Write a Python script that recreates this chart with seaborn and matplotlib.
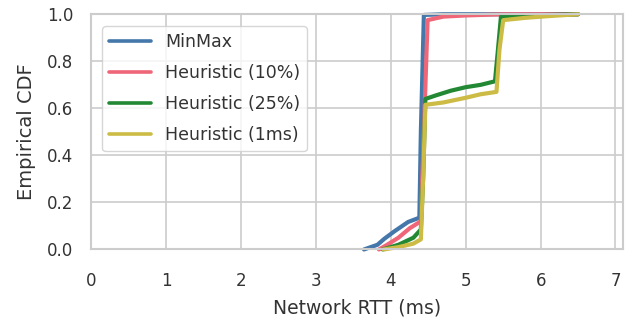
import pandas as pd
import matplotlib.pyplot as plt
import seaborn as sns

# CDF curves (x = RTT in ms, y = cumulative fraction)
minmax_x = [3.64, 3.82, 3.91, 4.05, 4.23, 4.38, 4.40, 4.44, 4.7, 6.5]
minmax_y = [0.0, 0.02, 0.045, 0.078, 0.117, 0.135, 0.5, 0.997, 1.0, 1.0]

h10_x = [3.84, 3.95, 4.10, 4.25, 4.40, 4.44, 4.49, 4.7, 5.0, 5.5, 6.5]
h10_y = [0.0, 0.02, 0.05, 0.09, 0.12, 0.5, 0.975, 0.99, 0.995, 1.0, 1.0]

h25_x = [3.89, 4.10, 4.30, 4.40, 4.43, 4.46, 4.60, 4.80, 5.00, 5.20, 5.39, 5.43, 5.47, 5.80, 6.50]
h25_y = [0.0, 0.02, 0.05, 0.085, 0.30, 0.64, 0.655, 0.675, 0.69, 0.70, 0.715, 0.85, 0.99, 0.995, 1.0]

h1ms_x = [3.90, 4.10, 4.30, 4.40, 4.43, 4.46, 4.70, 5.00, 5.20, 5.41, 5.45, 5.50, 5.80, 6.10, 6.50]
h1ms_y = [0.0, 0.01, 0.025, 0.043, 0.30, 0.615, 0.625, 0.645, 0.66, 0.67, 0.85, 0.975, 0.985, 0.992, 1.0]

labels = ['MinMax', 'Heuristic (10%)', 'Heuristic (25%)', 'Heuristic (1ms)']
colors = ['#4477AA', '#EE6677', '#228833', '#CCBB44']

frames = []
for name, xs, ys in zip(labels, [minmax_x, h10_x, h25_x, h1ms_x], [minmax_y, h10_y, h25_y, h1ms_y]):
    frames.append(pd.DataFrame({'rtt': xs, 'cdf': ys, 'method': name}))
df = pd.concat(frames, ignore_index=True)

sns.set_theme(style='whitegrid')
plt.rcParams['font.family'] = ['DejaVu Sans']

fig, ax = plt.subplots(figsize=(6.28, 3.24), dpi=100)
fig.subplots_adjust(left=0.1457, right=0.992, top=0.956, bottom=0.230)

sns.lineplot(data=df, x='rtt', y='cdf', hue='method', palette=colors,
             sort=False, estimator=None, linewidth=3.0, ax=ax)
for line in ax.get_lines():
    line.set_clip_on(False)

ax.set_xlim(0, 7.1)
ax.set_ylim(0, 1.0)
ax.set_xticks(range(0, 8))
ax.set_yticks([0.0, 0.2, 0.4, 0.6, 0.8, 1.0])
ax.set_yticklabels(['0.0', '0.2', '0.4', '0.6', '0.8', '1.0'])
ax.tick_params(axis='both', labelsize=12, colors='#333333')
ax.tick_params(axis='x', pad=10)
ax.tick_params(axis='y', pad=7)
ax.set_xlabel('Network RTT (ms)', fontsize=13.5, color='#333333', labelpad=6)
ax.set_ylabel('Empirical CDF', fontsize=14, color='#333333', labelpad=8)
for s in ax.spines.values():
    s.set_color('#cccccc')
    s.set_linewidth(1.5)
ax.grid(True, color='#cccccc', linewidth=1.2)

leg = ax.legend(loc='upper left', fontsize=12.5, handlelength=2.4, labelspacing=0.75,
                framealpha=0.8, bbox_to_anchor=(0.004, 0.985))
for line in leg.get_lines():
    line.set_linewidth(2.6)
for t in leg.get_texts():
    t.set_color('#333333')

plt.savefig('out.png', dpi=100)
